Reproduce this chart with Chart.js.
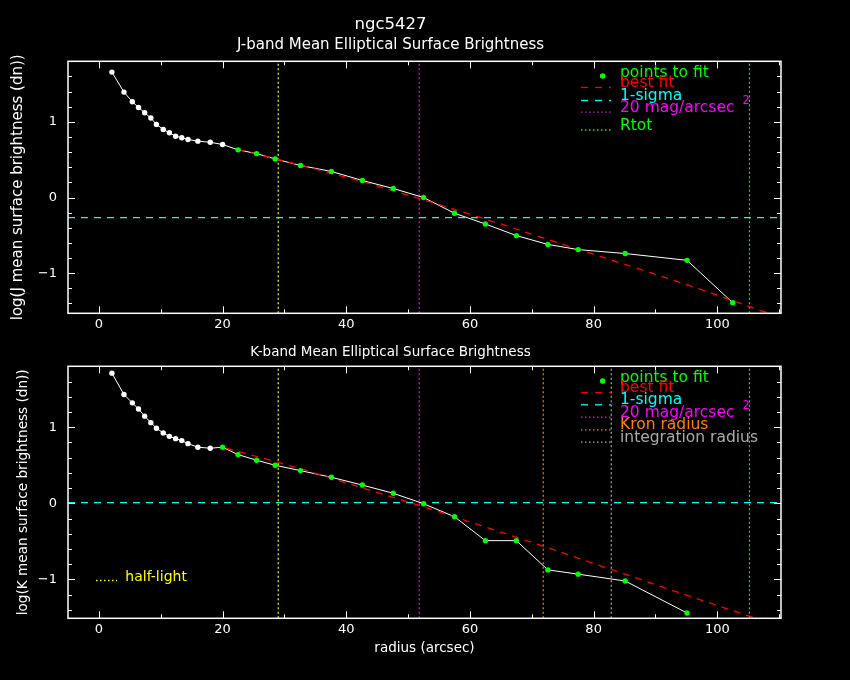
<!DOCTYPE html>
<html>
<head>
<meta charset="utf-8">
<script src="https://cdn.jsdelivr.net/npm/chart.js"></script>
<style>
html, body { margin: 0; padding: 0; background: #000; }
#wrap { position: relative; width: 850px; height: 680px; background: #000; overflow: hidden; }
canvas { position: absolute; left: 0; }
#cj { top: 0; }
#ck { top: 340px; }
</style>
</head>
<body>
<div id="wrap">
  <canvas id="cj" width="850" height="340"></canvas>
  <canvas id="ck" width="850" height="340"></canvas>
</div>
<script>
// ---------------- data ----------------
const objectName = 'ngc5427';

const jRadius = [2.1, 4.05, 5.4, 6.4, 7.4, 8.4, 9.3, 10.4, 11.4, 12.4, 13.4, 14.4, 16.0, 18.0, 20.0,
                 22.5, 25.5, 28.5, 32.6, 37.6, 42.6, 47.6, 52.5, 57.5, 62.5, 67.5, 72.6, 77.5, 85.1, 95.1, 102.5];
const jLogSB = [1.657, 1.393, 1.265, 1.19, 1.12, 1.05, 0.966, 0.90, 0.855, 0.81, 0.79, 0.767, 0.745, 0.73, 0.70,
                0.63, 0.58, 0.51, 0.423, 0.344, 0.225, 0.119, 0.0, -0.208, -0.35, -0.503, -0.62, -0.688, -0.74, -0.83, -1.39];
const jFitStart = 15;
const jFitRadius = [22.5, 32.7, 44.3, 54.7, 65.1, 75.6, 86.4, 96.7, 106.9, 108.6];
const jFitLogSB  = [0.635, 0.427, 0.172, -0.085, -0.353, -0.635, -0.918, -1.196, -1.49, -1.535];
const jSigma = -0.265;
const jHalfLight = 29.0;
const jMag20 = 51.8;
const jRtot = 105.2;

const kRadius = [2.1, 4.05, 5.4, 6.4, 7.4, 8.4, 9.3, 10.4, 11.4, 12.4, 13.4, 14.4, 16.0, 18.0, 20.0,
                 22.5, 25.5, 28.5, 32.6, 37.6, 42.6, 47.6, 52.5, 57.5, 62.5, 67.5, 72.6, 77.5, 85.1, 95.1];
const kLogSB = [1.71, 1.43, 1.32, 1.24, 1.145, 1.06, 0.987, 0.925, 0.88, 0.85, 0.824, 0.784, 0.737, 0.724, 0.737,
                0.64, 0.566, 0.50, 0.43, 0.342, 0.24, 0.132, -0.005, -0.176, -0.49, -0.49, -0.874, -0.93, -1.02, -1.44];
const kFitStart = 14;
const kFitRadius = [20.6, 26.8, 33.3, 41.6, 52.5, 62.4, 72.9, 83.2, 93.7, 104.2, 106.3];
const kFitLogSB  = [0.724, 0.587, 0.438, 0.228, -0.045, -0.308, -0.592, -0.878, -1.17, -1.456, -1.51];
const kSigma = 0.01;
const kHalfLight = 29.0;
const kMag20 = 51.8;
const kKron = 71.85;
const kInteg = 82.85;
const kRtot = 105.2;

const xRange = [-5, 110.3];
const jYRange = [-1.53, 1.80];
const kYRange = [-1.51, 1.80];
const xTickLabels = [0, 20, 40, 60, 80, 100];
const xMinorTicks = [10, 30, 50, 70, 90, 110];
const yTickLabels = [-1, 0, 1];
const yMinorTicks = [-1.4, -1.2, -0.8, -0.6, -0.4, -0.2, 0.2, 0.4, 0.6, 0.8, 1.2, 1.4, 1.6];

// ---------------- style ----------------
const FONT = '"DejaVu Sans", sans-serif';
const C = {
  white: '#ffffff', green: '#00ff00', red: '#ff0000', cyan: '#00ffff',
  magenta: '#ff00ff', yellow: '#ffff00', orange: '#ff8000', grey: '#aaaaaa'
};
Chart.defaults.font.family = FONT;
Chart.defaults.color = '#ffffff';

const fmt = v => (v < 0 ? '\u2212' + Math.abs(v) : String(v));
const pts = (xs, ys) => xs.map((x, i) => ({ x, y: ys[i] }));

function vline(x, yr, color, label) {
  return { label, data: [{ x, y: yr[0] }, { x, y: yr[1] }], showLine: true,
    borderColor: color, borderWidth: 1.2, borderDash: [2, 2.5], pointRadius: 0, order: 6 };
}
function hline(y, color, label) {
  return { label, data: [{ x: xRange[0], y }, { x: xRange[1], y }], showLine: true,
    borderColor: color, borderWidth: 1.3, borderDash: [7, 6], pointRadius: 0, order: 5 };
}
function profileSets(rad, sb, fitStart, fitR, fitSB) {
  return [
    { label: 'profile', data: pts(rad, sb), showLine: true, borderColor: C.white, borderWidth: 1,
      pointRadius: 0, order: 3 },
    { label: 'best fit', data: pts(fitR, fitSB), showLine: true, borderColor: C.red, borderWidth: 1.3,
      borderDash: [7, 6], pointRadius: 0, order: 2 },
    { label: 'points to fit', data: pts(rad, sb), showLine: false, order: 1,
      pointRadius: 2.7, pointBorderWidth: 0,
      pointBackgroundColor: ctx => (ctx.dataIndex >= fitStart ? C.green : C.white),
      pointBorderColor: ctx => (ctx.dataIndex >= fitStart ? C.green : C.white) }
  ];
}

// frame, inward ticks, legend
const pgFrame = {
  id: 'pgFrame',
  afterDatasetsDraw(chart, args, opts) {
    const { ctx, chartArea: a, scales: { x, y } } = chart;
    ctx.save();
    ctx.strokeStyle = '#fff';
    ctx.lineWidth = 1.5;
    ctx.strokeRect(a.left, a.top, a.right - a.left, a.bottom - a.top);
    ctx.lineWidth = 1;
    const seg = (x1, y1, x2, y2) => { ctx.beginPath(); ctx.moveTo(x1, y1); ctx.lineTo(x2, y2); ctx.stroke(); };
    const xt = (vals, len) => vals.forEach(v => {
      const p = Math.round(x.getPixelForValue(v)) + 0.5;
      if (p < a.left || p > a.right) return;
      seg(p, a.bottom, p, a.bottom - len); seg(p, a.top, p, a.top + len);
    });
    const yt = (vals, len) => vals.forEach(v => {
      const p = Math.round(y.getPixelForValue(v)) + 0.5;
      if (p < a.top || p > a.bottom) return;
      seg(a.left, p, a.left + len, p); seg(a.right, p, a.right - len, p);
    });
    xt(xTickLabels, 7); xt(xMinorTicks, 4);
    yt(yTickLabels, 7); yt(yMinorTicks, 4);

    // legend
    (opts.items || []).forEach(it => {
      ctx.save();
      if (it.sample === 'dot') {
        ctx.fillStyle = it.color;
        ctx.beginPath(); ctx.arc(602.7, it.y - 0.7, 2.8, 0, Math.PI * 2); ctx.fill();
      } else {
        ctx.strokeStyle = it.color; ctx.lineWidth = 1.3;
        ctx.setLineDash(it.sample === 'dash' ? [7, 7] : [1.5, 2.5]);
        seg(581, it.y + 0.5, 611, it.y + 0.5);
      }
      ctx.restore();
      ctx.fillStyle = it.color;
      ctx.font = '15.5px ' + FONT;
      ctx.textBaseline = 'alphabetic';
      ctx.textAlign = 'left';
      ctx.fillText(it.text, 620, it.y);
      if (it.sup) {
        const w = ctx.measureText(it.text).width;
        ctx.font = '11.5px ' + FONT;
        ctx.fillText(it.sup, 620 + w + 8, it.y - 7.4);
      }
    });
    if (opts.extra) {
      const e = opts.extra;
      ctx.save();
      ctx.strokeStyle = e.color; ctx.lineWidth = 1.3; ctx.setLineDash([1.5, 2.5]);
      seg(96, e.y + 0.5, 117, e.y + 0.5);
      ctx.restore();
      ctx.fillStyle = e.color;
      ctx.font = '14px ' + FONT;
      ctx.textBaseline = 'alphabetic';
      ctx.fillText(e.text, 125.3, e.y + 0.7);
    }
    ctx.restore();
  }
};

function scalesFor(yRange, yTitle, yTitleSize, yTitlePad, xHeight, xTitle) {
  return {
    x: {
      type: 'linear', min: xRange[0], max: xRange[1],
      grid: { display: false, drawTicks: false }, border: { display: false },
      afterBuildTicks: s => { s.ticks = xTickLabels.map(v => ({ value: v })); },
      afterFit: s => { s.height = xHeight; },
      ticks: { color: '#fff', font: { size: 13 }, padding: 4, maxRotation: 0, autoSkip: false, callback: fmt },
      title: xTitle ? { display: true, text: xTitle, color: '#fff', font: { size: 13.5 },
                        padding: { top: 0, bottom: 23.6 } } : { display: false }
    },
    y: {
      type: 'linear', min: yRange[0], max: yRange[1],
      grid: { display: false, drawTicks: false }, border: { display: false },
      afterBuildTicks: s => { s.ticks = yTickLabels.map(v => ({ value: v })); },
      afterFit: s => { s.width = 68; },
      ticks: { color: '#fff', font: { size: 13 }, padding: 11, autoSkip: false, callback: fmt },
      title: { display: true, text: yTitle, color: '#fff', font: { size: yTitleSize },
               padding: { top: yTitlePad, bottom: 0 } }
    }
  };
}

// ---------------- J-band chart ----------------
new Chart(document.getElementById('cj'), {
  type: 'scatter',
  data: {
    datasets: [
      ...profileSets(jRadius, jLogSB, jFitStart, jFitRadius, jFitLogSB),
      hline(jSigma, C.cyan, '1-sigma'),
      vline(jHalfLight, jYRange, C.yellow, 'half-light'),
      vline(jMag20, jYRange, C.magenta, '20 mag/arcsec2'),
      vline(jRtot, jYRange, C.green, 'Rtot')
    ]
  },
  options: {
    responsive: false, animation: false, devicePixelRatio: 1,
    layout: { padding: { left: 0, right: 69, top: 0, bottom: 0 } },
    scales: scalesFor(jYRange, 'log(J mean surface brightness (dn))', 15, 8.8, 26.7, null),
    plugins: {
      legend: { display: false }, tooltip: { enabled: false },
      title: { display: true, text: objectName, color: '#fff', font: { size: 16.5, weight: 'normal' },
               padding: { top: 14.6, bottom: 0 } },
      subtitle: { display: true, text: 'J-band Mean Elliptical Surface Brightness', color: '#fff',
                  font: { size: 15, weight: 'normal' }, padding: { top: 1.3, bottom: 7.6 } },
      pgFrame: {
        items: [
          { sample: 'dot', color: C.green, text: 'points to fit', y: 76.7 },
          { sample: 'dash', color: C.red, text: 'best fit', y: 87 },
          { sample: 'dash', color: C.cyan, text: '1-sigma', y: 100 },
          { sample: 'dots', color: C.magenta, text: '20 mag/arcsec', sup: '2', y: 111.7 },
          { sample: 'dots', color: C.green, text: 'Rtot', y: 129.5 }
        ]
      }
    }
  },
  plugins: [pgFrame]
});

// ---------------- K-band chart ----------------
new Chart(document.getElementById('ck'), {
  type: 'scatter',
  data: {
    datasets: [
      ...profileSets(kRadius, kLogSB, kFitStart, kFitRadius, kFitLogSB),
      hline(kSigma, C.cyan, '1-sigma'),
      vline(kHalfLight, kYRange, C.yellow, 'half-light'),
      vline(kMag20, kYRange, C.magenta, '20 mag/arcsec2'),
      vline(kKron, kYRange, C.orange, 'Kron radius'),
      vline(kInteg, kYRange, C.grey, 'integration radius'),
      vline(kRtot, kYRange, C.green, 'Rtot')
    ]
  },
  options: {
    responsive: false, animation: false, devicePixelRatio: 1,
    layout: { padding: { left: 0, right: 69, top: 0, bottom: 0 } },
    scales: scalesFor(kYRange, 'log(K mean surface brightness (dn))', 13.6, 15.5, 61.7, 'radius (arcsec)'),
    plugins: {
      legend: { display: false }, tooltip: { enabled: false },
      title: { display: true, text: 'K-band Mean Elliptical Surface Brightness', color: '#fff',
               font: { size: 13.5, weight: 'normal' }, padding: { top: 4.6, bottom: 5.5 } },
      pgFrame: {
        items: [
          { sample: 'dot', color: C.green, text: 'points to fit', y: 41.7 },
          { sample: 'dash', color: C.red, text: 'best fit', y: 52 },
          { sample: 'dash', color: C.cyan, text: '1-sigma', y: 64.3 },
          { sample: 'dots', color: C.magenta, text: '20 mag/arcsec', sup: '2', y: 76.7 },
          { sample: 'dots', color: C.orange, text: 'Kron radius', y: 89.3 },
          { sample: 'dots', color: C.grey, text: 'integration radius', y: 101.7 }
        ],
        extra: { color: C.yellow, text: 'half-light', y: 240 }
      }
    }
  },
  plugins: [pgFrame]
});
</script>
</body>
</html>
